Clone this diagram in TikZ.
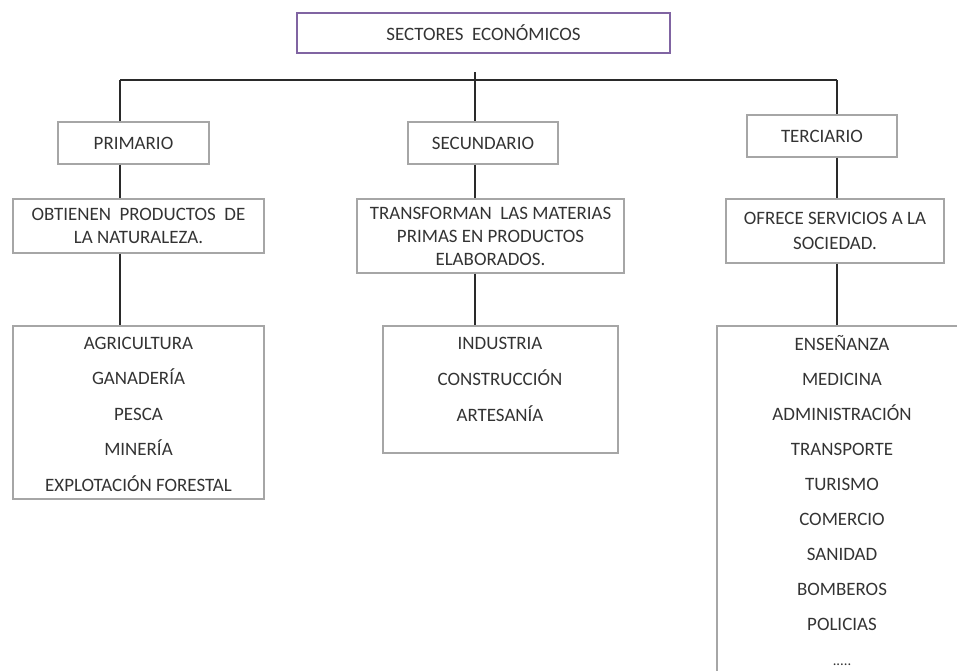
\documentclass[tikz,border=0pt]{standalone}
\usepackage{fontspec}
\setmainfont{Carlito}
\definecolor{txt}{HTML}{333333}
\definecolor{boxgray}{HTML}{A6A6A6}
\definecolor{purp}{HTML}{8064A2}
\definecolor{linec}{HTML}{2A2A2A}
\begin{document}
\begin{tikzpicture}[x=0.75pt,y=-0.75pt,
  every node/.style={text=txt,font=\fontsize{14.2}{17.3}\selectfont,inner sep=0pt},
  box/.style={draw=boxgray,line width=0.9pt,align=center},
  titlebox/.style={draw=purp,line width=1.8pt,align=center},
  item/.style={anchor=base},
  conn/.style={draw=linec,line width=1.1pt}]
\useasboundingbox (0,0) rectangle (957,671);
\clip (0,0) rectangle (957,671);
% title
\node[titlebox,minimum width=373*0.75pt,minimum height=40*0.75pt] (title) at (483.5,33) {SECTORES\ \ ECONÓMICOS};
% level 1
\node[box,minimum width=151*0.75pt,minimum height=42*0.75pt] (prim) at (133.5,143) {PRIMARIO};
\node[box,minimum width=150*0.75pt,minimum height=42*0.75pt] (secu) at (483,143) {SECUNDARIO};
\node[box,minimum width=150*0.75pt,minimum height=42*0.75pt] (terc) at (822,136) {TERCIARIO};
% level 2
\node[box,minimum width=251*0.75pt,minimum height=54*0.75pt] (obt) at (138.5,226) {OBTIENEN\ \ PRODUCTOS\ \ DE\\LA NATURALEZA.};
\node[box,minimum width=267*0.75pt,minimum height=74*0.75pt] (trans) at (490.5,236) {TRANSFORMAN\ \ LAS MATERIAS\\PRIMAS EN PRODUCTOS\\ELABORADOS.};
\node[box,minimum width=218*0.75pt,minimum height=64*0.75pt] (ofr) at (835,231) {OFRECE SERVICIOS A LA\\[1pt]SOCIEDAD.};
% level 3 boxes
\node[box,minimum width=251*0.75pt,minimum height=173*0.75pt] (l1) at (138.5,412.5) {};
\node[box,minimum width=235*0.75pt,minimum height=127*0.75pt] (l2) at (500.5,389.5) {};
\node[box,minimum width=280*0.75pt,minimum height=400*0.75pt] (l3) at (857,526) {};
% list items (baselines)
\foreach \t [count=\i] in {AGRICULTURA,GANADERÍA,PESCA,MINERÍA,EXPLOTACIÓN FORESTAL}
  \node[item] (a\i) at (138.5,{349+35.5*(\i-1)}) {\t};
\foreach \t [count=\i] in {INDUSTRIA,CONSTRUCCIÓN,ARTESANÍA}
  \node[item] (b\i) at (500,{349+36*(\i-1)}) {\t};
\foreach \t [count=\i] in {ENSEÑANZA,MEDICINA,ADMINISTRACIÓN,TRANSPORTE,TURISMO,COMERCIO,SANIDAD,BOMBEROS,POLICIAS}
  \node[item] (c\i) at (842,{350+35.1*(\i-1)}) {\t};
\node[item] (cdots) at (842,665) {\fontsize{11}{12}\selectfont .....};
% connectors
\coordinate (hub) at (475,72);
\coordinate (cL) at (120,80);
\coordinate (cR) at (837,80);
\draw[conn] (cL) -- (cR);
\draw[conn] (hub) -- (secu.north -| hub);
\draw[conn] (cL) -- (prim.north -| cL);
\draw[conn] (cR) -- (terc.north -| cR);
\draw[conn] (prim.south -| cL) -- (obt.north -| cL);
\draw[conn] (obt.south -| cL) -- (l1.north -| cL);
\draw[conn] (secu.south -| hub) -- (trans.north -| hub);
\draw[conn] (trans.south -| hub) -- (l2.north -| hub);
\draw[conn] (terc.south -| cR) -- (ofr.north -| cR);
\draw[conn] (ofr.south -| cR) -- (l3.north -| cR);
\end{tikzpicture}
\end{document}
